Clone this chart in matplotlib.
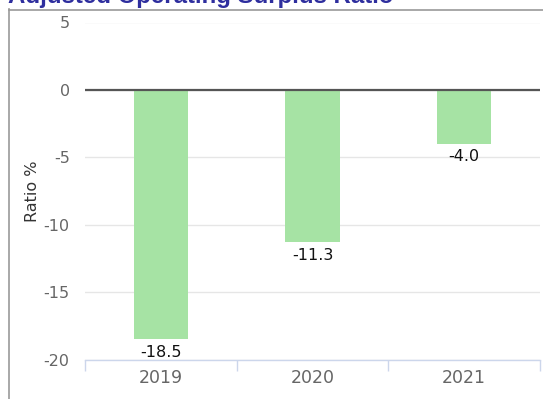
import matplotlib
matplotlib.use("Agg")
import matplotlib.pyplot as plt
from matplotlib.lines import Line2D

categories = ["2019", "2020", "2021"]
values = [-18.5, -11.3, -4.0]
yticks = [5, 0, -5, -10, -15, -20]
title = "Adjusted Operating Surplus Ratio"
ylabel = "Ratio %"

W, H = 543, 399
fig = plt.figure(figsize=(W / 100, H / 100), dpi=100)

def fx(px):
    return px / W

def fy(py):
    return 1 - py / H

# outer border
fig.add_artist(Line2D([fx(8.5), fx(8.5)], [fy(9), 0], color="#999999", lw=1.2, transform=fig.transFigure))
fig.add_artist(Line2D([fx(8.5), 1.0], [fy(9.5), fy(9.5)], color="#999999", lw=1.2, transform=fig.transFigure))

fig.text(fx(8), fy(3.5), title, fontsize=17.3, fontweight="bold", color="#2e2e9e",
         ha="left", va="baseline", family="Liberation Sans")

left, right = 85, 540
top, bottom = 22.5, 359.5
ax = fig.add_axes([fx(left), fy(bottom), fx(right - left), fy(top) - fy(bottom)])

x = list(range(len(categories)))
ax.bar(x, values, width=0.36, color="#a6e3a4", zorder=2)
ax.set_xlim(-0.5, len(categories) - 0.5)
ax.set_ylim(-20, 5)

for xi, v in zip(x, values):
    ax.annotate(f"{v:.1f}", (xi, v), xytext=(0, -4), textcoords="offset points",
                ha="center", va="top", fontsize=11.5, color="#111111", zorder=4)

ax.set_yticks(yticks)
ax.set_yticklabels([str(t) for t in yticks], fontsize=11.5, color="#666666")
ax.yaxis.grid(True, color="#e6e6e6", lw=1, zorder=0)
ax.tick_params(axis="y", length=0, pad=11)
ax.axhline(0, color="#555555", lw=1.6, zorder=3)

ax.set_xticks(x)
ax.set_xticklabels(categories, fontsize=12.5, color="#666666")
ax.tick_params(axis="x", length=0, pad=7)
# category boundary ticks
ax.set_xticks([i - 0.5 for i in range(len(categories) + 1)], minor=True)
ax.tick_params(axis="x", which="minor", length=8, color="#ccd6eb", width=1, direction="out")

for s in ["top", "right", "left"]:
    ax.spines[s].set_visible(False)
ax.spines["bottom"].set_color("#ccd6eb")
ax.spines["bottom"].set_linewidth(1)

ax.set_ylabel(ylabel, fontsize=11.5, color="#333333")
ax.yaxis.set_label_coords(-(left - 40) / (right - left), (bottom - 191) / (bottom - top))

fig.savefig("out.png", dpi=100)
